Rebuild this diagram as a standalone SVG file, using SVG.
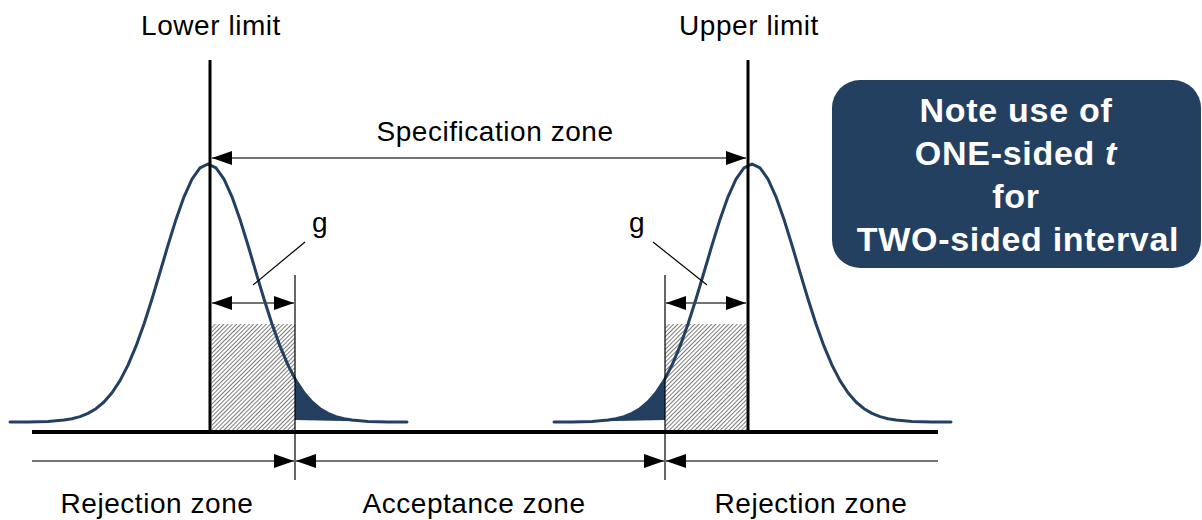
<svg xmlns="http://www.w3.org/2000/svg" xmlns:xlink="http://www.w3.org/1999/xlink" width="1202" height="520" viewBox="0 0 1202 520">
<style>
.t{font-family:"Liberation Sans",Arial,sans-serif;font-size:28px;fill:#000;letter-spacing:0.55px}
.nt{font-family:"Liberation Sans",Arial,sans-serif;font-size:34px;font-weight:bold;fill:#fff;letter-spacing:0.7px}
.curve{fill:none;stroke:#243f60;stroke-width:3;stroke-linejoin:round;stroke-linecap:round}
.tail{fill:#243f60;stroke:none}
.lim{stroke:#000;stroke-width:3}
.thin{stroke:#000;stroke-width:1.2}
.dim{stroke:#444;stroke-width:1.6;fill:none}
.hatch{fill:url(#hp)}
</style>
<defs>
<pattern id="hp" patternUnits="userSpaceOnUse" width="3" height="3" patternTransform="rotate(45)">
<rect width="3" height="3" fill="#fff"/>
<line x1="0" y1="0" x2="0" y2="3" stroke="#222" stroke-width="1.2"/>
</pattern>
<marker id="ah" viewBox="0 0 20 14" refX="20" refY="7" markerWidth="20" markerHeight="14" markerUnits="userSpaceOnUse" orient="auto-start-reverse">
<path d="M0,0 L20,7 L0,14 z" fill="#000"/>
</marker>
<path id="bell" d="M-198,0 L-180,-0.1 L-160,-0.6 L-144,-1.9 L-136,-3.3 L-128,-5.4 L-120,-8.6 L-112,-13.3 L-104,-20 L-96,-29.2 L-88,-41.4 L-80,-56.9 L-72,-75.8 L-64,-98 L-56,-123 L-48,-149.7 L-40,-176.8 L-32,-202.6 L-24,-225.2 L-16,-242.9 L-8,-254.1 L0,-258 L8,-254.1 L16,-242.9 L24,-225.2 L32,-202.6 L40,-176.8 L48,-149.7 L56,-123 L64,-98 L72,-75.8 L80,-56.9 L88,-41.4 L96,-29.2 L104,-20 L112,-13.3 L120,-8.6 L128,-5.4 L136,-3.3 L144,-1.9 L160,-0.6 L180,-0.1 L199,0"/>
<path id="tailshape" d="M87,-43.1 L88,-41.4 L96,-29.2 L104,-20 L112,-13.3 L120,-8.6 L128,-5.4 L136,-3.3 L144,-1.9 L160,-0.6 L172,-0.3 L87,-2 z"/>
</defs>
<rect width="1202" height="520" fill="#fff"/>

<g id="lower-distribution">
<rect class="hatch" x="211.5" y="324" width="83.5" height="106"/>
<use xlink:href="#tailshape" href="#tailshape" class="tail" transform="translate(208,422)"/>
<use xlink:href="#bell" href="#bell" class="curve" transform="translate(208,422)"/>
</g>

<g id="upper-distribution">
<rect class="hatch" x="665" y="324" width="81.5" height="106"/>
<use xlink:href="#tailshape" href="#tailshape" class="tail" transform="translate(752,422) scale(-1,1)"/>
<use xlink:href="#bell" href="#bell" class="curve" transform="translate(752,422)"/>
</g>

<g id="lower-limit">
<line class="lim" x1="210" y1="60" x2="210" y2="432"/>
<text class="t" x="211" y="35" text-anchor="middle">Lower limit</text>
</g>

<g id="upper-limit">
<line class="lim" x1="748" y1="60" x2="748" y2="432"/>
<text class="t" x="749" y="35" text-anchor="middle">Upper limit</text>
</g>

<g id="axis">
<line x1="32" y1="432" x2="938" y2="432" stroke="#000" stroke-width="4"/>
<line class="thin" x1="295" y1="275" x2="295" y2="480"/>
<line class="thin" x1="665" y1="275" x2="665" y2="480"/>
</g>

<g id="note">
<rect x="832" y="80" width="369" height="188" rx="28" ry="28" fill="#244061"/>
<text class="nt" x="1016" y="122" text-anchor="middle">Note use of</text>
<text class="nt" x="1016" y="165" text-anchor="middle">ONE-sided <tspan font-style="italic">t</tspan></text>
<text class="nt" x="1016" y="208" text-anchor="middle">for</text>
<text class="nt" x="1018" y="251" text-anchor="middle">TWO-sided interval</text>
</g>

<g id="connectors">
<line class="dim" x1="212" y1="158" x2="746" y2="158" marker-start="url(#ah)" marker-end="url(#ah)"/>
<line class="dim" x1="212" y1="303" x2="294" y2="303" stroke="#000" marker-start="url(#ah)" marker-end="url(#ah)"/>
<line class="dim" x1="666" y1="303" x2="746" y2="303" stroke="#000" marker-start="url(#ah)" marker-end="url(#ah)"/>
<line class="thin" x1="305" y1="242" x2="253" y2="285"/>
<line class="thin" x1="653" y1="242" x2="707" y2="285"/>
<line class="dim" x1="32" y1="461" x2="294" y2="461" marker-end="url(#ah)"/>
<line class="dim" x1="296" y1="461" x2="664" y2="461" marker-start="url(#ah)" marker-end="url(#ah)"/>
<line class="dim" x1="666" y1="461" x2="938" y2="461" marker-start="url(#ah)"/>
</g>

<g id="labels">
<text class="t" x="495" y="141" text-anchor="middle">Specification zone</text>
<text class="t" x="320" y="232" text-anchor="middle">g</text>
<text class="t" x="637" y="232" text-anchor="middle">g</text>
<text class="t" x="157" y="513" text-anchor="middle">Rejection zone</text>
<text class="t" x="474" y="513" text-anchor="middle">Acceptance zone</text>
<text class="t" x="811" y="513" text-anchor="middle">Rejection zone</text>
</g>
</svg>
